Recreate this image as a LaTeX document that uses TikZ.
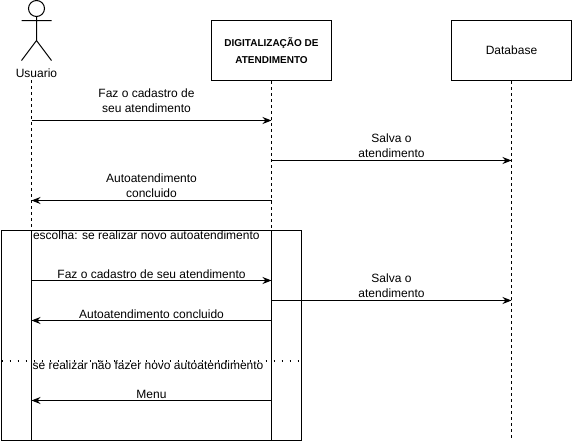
\documentclass[tikz,border=0pt]{standalone}
\usepackage{fontspec}
\setmainfont{Liberation Sans}
\usetikzlibrary{positioning,arrows.meta}
\tikzset{
  obj/.style={draw, line width=1pt, minimum width=120pt, minimum height=60pt, inner sep=0pt, align=center},
  msg/.style={-{Stealth[length=9pt,width=7pt]}, line width=1pt},
  life/.style={line width=1pt, dash pattern=on 3pt off 3pt},
  lab/.style={inner sep=0pt, align=center, text height=9pt, text depth=3pt},
}
\begin{document}
\begin{tikzpicture}[x=1pt, y=-1pt, node distance=240pt, on grid,
    font=\fontsize{12pt}{15.5pt}\selectfont, line width=1pt]
    \useasboundingbox (0,0) rectangle (572,442);
    % actor
    \node[draw, circle, minimum size=16pt, inner sep=0pt] (head) at (36.5,8.5) {};%
    \coordinate (hip) at (36.5,40.5);%
    \coordinate (armL) at (21.5,20.5);%
    \coordinate (armR) at (51.5,20.5);%
    \coordinate (legL) at (21.5,60.5);%
    \coordinate (legR) at (51.5,60.5);%
    \draw (head) -- (hip) (armL) -- (armR) (legL) -- (hip) -- (legR);%
    \node[lab] (usuario) at (36.5,74) {Usuario};%
    % boxes
    \node[obj, font=\fontsize{10pt}{17pt}\selectfont\bfseries] (digit) at (271.5,50.5) {DIGITALIZAÇÃO DE\\ATENDIMENTO};%
    \node[obj] (db) [right=of digit] {Database};%
    % lifelines
    \coordinate (uTop) at (31.5,80);%
    \coordinate (uMid) at (31.5,230.5);%
    \coordinate (uEnd) at (31.5,440.5);%
    \coordinate (dMid) at (271.5,230.5);%
    \coordinate (dEnd) at (271.5,440.5);%
    \coordinate (bEnd) at (511.5,440.5);%
    \draw[life] (uTop) -- (uMid);%
    \draw[life] (digit) -- (dMid);%
    \draw[life] (db) -- (bEnd);%
    % frame
    \node[draw, minimum width=300pt, minimum height=210pt, inner sep=0pt] (alt) at (151.5,335.5) {};%
    \draw (uMid) -- (uEnd) (dMid) -- (dEnd);%
    \node[lab, right=0pt of alt.north west, anchor=west, xshift=31.5pt, yshift=-6pt] (escolha) {escolha: se realizar novo autoatendimento};%
    % messages
    \coordinate (u1) at (31.5,120.5);   \coordinate (d1) at (271.5,120.5);%
    \coordinate (d2) at (271.5,160.5);  \coordinate (b2) at (511.5,160.5);%
    \coordinate (u3) at (31.5,200.5);   \coordinate (d3) at (271.5,200.5);%
    \coordinate (u4) at (31.5,280.5);   \coordinate (d4) at (271.5,280.5);%
    \coordinate (d5) at (271.5,300.5);  \coordinate (b5) at (511.5,300.5);%
    \coordinate (u6) at (31.5,320.5);   \coordinate (d6) at (271.5,320.5);%
    \coordinate (u7) at (31.5,400.5);   \coordinate (d7) at (271.5,400.5);%
    \path[msg] (u1) edge node[above=7pt, align=center, inner sep=0pt, xshift=-5pt] {Faz o cadastro de\\seu atendimento} (d1)%
               (d2) edge node[above=2pt, align=center, inner sep=0pt] {Salva o\\atendimento} (b2)%
               (d3) edge node[above=2pt, align=center, inner sep=0pt] {Autoatendimento\\concluido} (u3)%
               (u4) edge node[above=-1pt, lab] {Faz o cadastro de seu atendimento} (d4)%
               (d5) edge node[above=2pt, align=center, inner sep=0pt] {Salva o\\atendimento} (b5)%
               (d6) edge node[above=-1pt, lab] {Autoatendimento concluido} (u6)%
               (d7) edge node[above=-1pt, lab] {Menu} (u7);%
    % separator
    \coordinate (sepL) at (1.5,360.5);%
    \coordinate (sepR) at (301.5,360.5);%
    \draw[line width=2pt, dash pattern=on 1.5pt off 6.5pt] (sepL) -- (sepR);%
    \node[lab, anchor=center] (naofazer) at (148,366) {se realizar não fazer novo autoatendimento};%
  \end{tikzpicture}
\end{document}
